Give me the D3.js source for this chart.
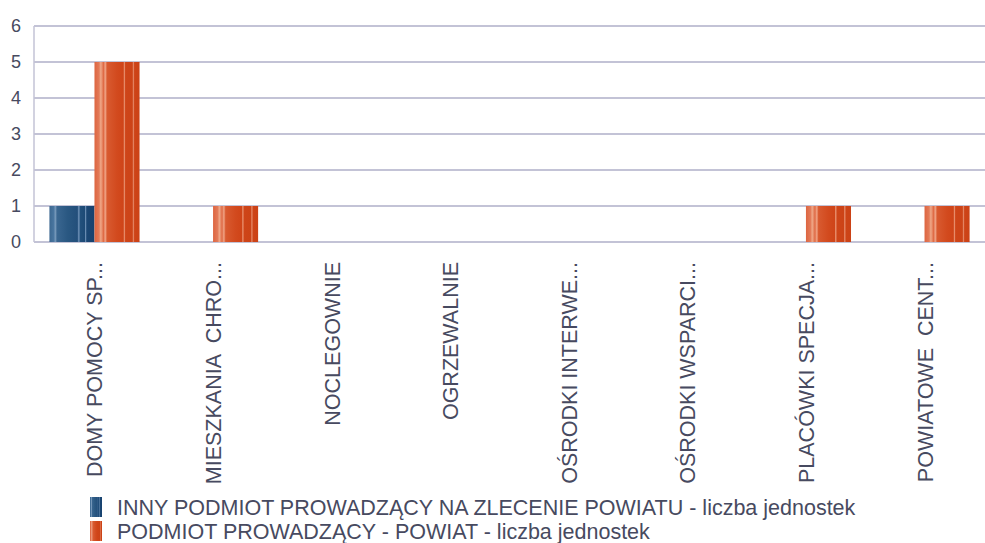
<!DOCTYPE html>
<html>
<head>
<meta charset="utf-8">
<script src="https://cdn.jsdelivr.net/npm/d3@7"></script>
<style>
  body { margin: 0; background: #fff; }
  text { font-family: "Liberation Sans", Arial, sans-serif; fill: #474a60; }
</style>
</head>
<body>
<svg id="chart" width="985" height="543"></svg>
<script>
(function() {
    const categories = [
        "DOMY POMOCY SP...",
        "MIESZKANIA  CHRO...",
        "NOCLEGOWNIE",
        "OGRZEWALNIE",
        "OŚRODKI INTERWE...",
        "OŚRODKI WSPARCI...",
        "PLACÓWKI SPECJA...",
        "POWIATOWE  CENT..."
    ];
    const seriesNames = [
        "INNY PODMIOT PROWADZĄCY NA ZLECENIE POWIATU - liczba jednostek",
        "PODMIOT PROWADZĄCY - POWIAT - liczba jednostek"
    ];
    const innyValues = [1, 0, 0, 0, 0, 0, 0, 0];
    const powiatValues = [5, 1, 0, 0, 0, 0, 1, 1];
    const yTicks = [0, 1, 2, 3, 4, 5, 6];

    const width = 985;
    const left = 34, top = 26, bottom = 242;

    const svg = d3.select("#chart");
    const defs = svg.append("defs");

    // stripy fills, like the original office-chart bars
    const gradients = [
        { id: "gBlue", stops: [
            [0, "#3d6891"], [0.1, "#4a76a0"], [0.13, "#7b9cbd"], [0.17, "#3a6690"],
            [0.4, "#2a5882"], [0.62, "#234f7b"], [0.65, "#6d90b6"], [0.69, "#22507c"],
            [0.78, "#1d4a76"], [0.8, "#6a8db3"], [0.83, "#1b4774"], [1, "#17416e"]
        ]},
        { id: "gOrange", stops: [
            [0, "#dd6540"], [0.1, "#e37a58"], [0.14, "#efa888"], [0.2, "#df6a45"],
            [0.24, "#f0a486"], [0.28, "#d85a30"], [0.5, "#d24a1e"], [0.64, "#cf4418"],
            [0.66, "#ec9a7a"], [0.69, "#ce4519"], [0.84, "#cc4317"], [0.86, "#e89070"],
            [0.89, "#cd4418"], [1, "#cb4216"]
        ]}
    ];
    gradients.forEach(gr => {
        const lg = defs.append("linearGradient")
            .attr("id", gr.id)
            .attr("x1", "0").attr("x2", "1").attr("y1", "0").attr("y2", "0");
        lg.selectAll("stop").data(gr.stops).enter().append("stop")
            .attr("offset", d => d[0])
            .attr("stop-color", d => d[1]);
    });
    const fills = ["url(#gBlue)", "url(#gOrange)"];

    const x = d3.scaleBand().domain(categories).range([left, width]).paddingInner(0.24).paddingOuter(0.13);
    const xInner = d3.scaleBand().domain([0, 1]).range([0, x.bandwidth()]);
    const y = d3.scaleLinear().domain([0, 6]).range([bottom, top]);

    // gridlines
    svg.append("g").selectAll("line")
        .data(yTicks).enter().append("line")
        .attr("x1", left).attr("x2", width)
        .attr("y1", d => y(d)).attr("y2", d => y(d))
        .attr("stroke", "#c3c3d6")
        .attr("stroke-width", 2);

    svg.append("line")
        .attr("x1", left).attr("x2", left)
        .attr("y1", y(6)).attr("y2", y(0))
        .attr("stroke", "#c3c3d6")
        .attr("stroke-width", 1.5);

    // y tick labels
    svg.append("g").selectAll("text")
        .data(yTicks).enter().append("text")
        .attr("x", 21)
        .attr("y", d => y(d))
        .attr("dy", "0.36em")
        .attr("text-anchor", "end")
        .style("font-size", "18px")
        .text(d => d);

    // bars
    const series = [innyValues, powiatValues];
    series.forEach((vals, si) => {
        svg.append("g").selectAll("rect")
            .data(vals.map((v, i) => ({ cat: categories[i], v: v })).filter(d => d.v > 0))
            .enter().append("rect")
            .attr("x", d => x(d.cat) + xInner(si))
            .attr("width", xInner.bandwidth())
            .attr("y", d => y(d.v))
            .attr("height", d => y(0) - y(d.v))
            .attr("fill", fills[si]);
    });

    // category labels, rotated
    svg.append("g").selectAll("text")
        .data(categories).enter().append("text")
        .attr("transform", d => `translate(${x(d) + x.bandwidth() / 2 + 8},262) rotate(-90)`)
        .attr("text-anchor", "end")
        .style("font-size", "21.5px")
        .style("white-space", "pre")
        .text(d => d);

    // legend
    const legend = svg.append("g");
    seriesNames.forEach((name, i) => {
        legend.append("rect")
            .attr("x", 90).attr("y", 497 + i * 24)
            .attr("width", 12).attr("height", 20)
            .attr("fill", fills[i]);
        legend.append("text")
            .attr("x", 117).attr("y", 515 + i * 24)
            .style("font-size", "21.5px")
            .text(name);
    });
})();
</script>
</body>
</html>
